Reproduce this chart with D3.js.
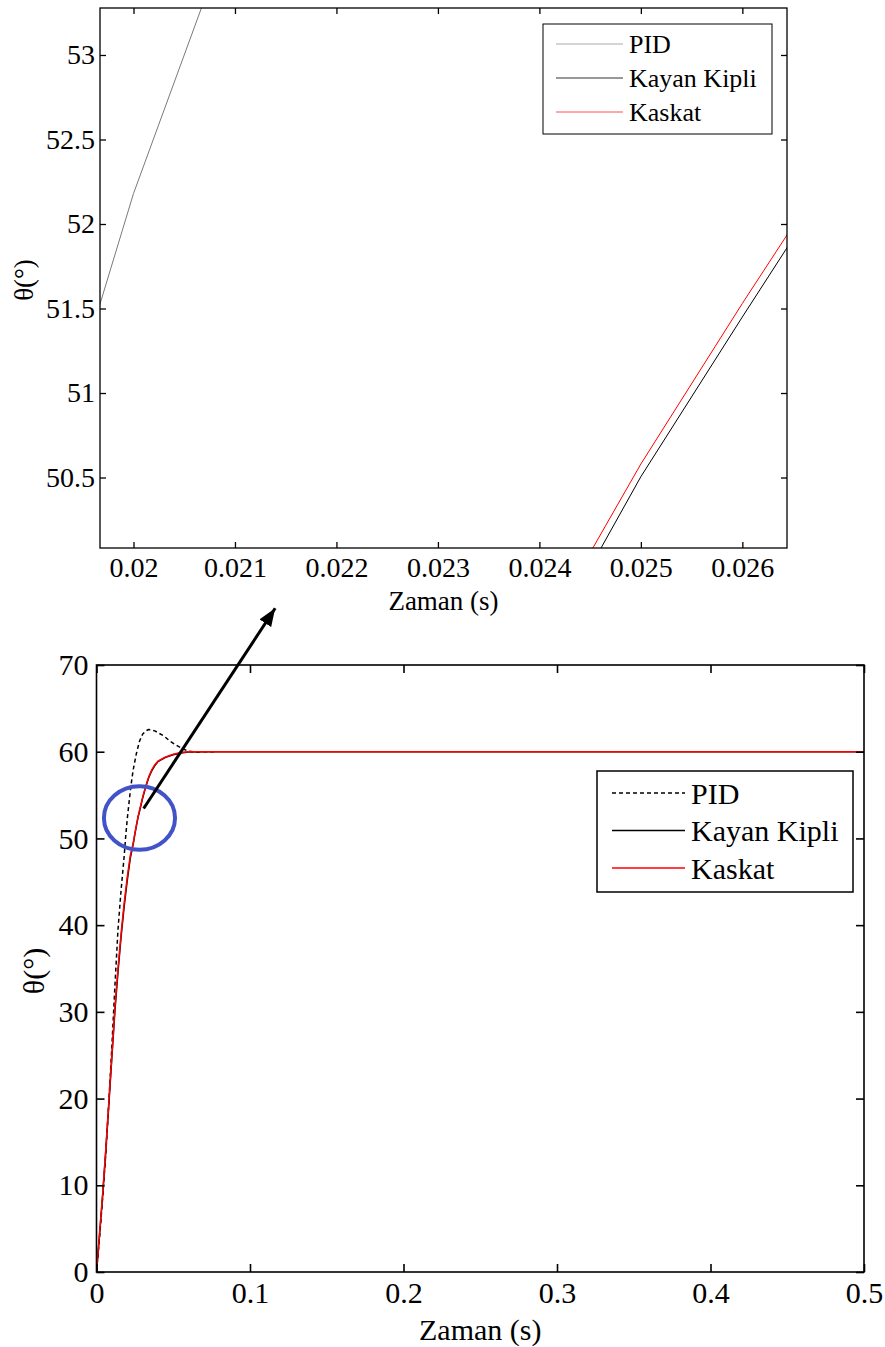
<!DOCTYPE html>
<html>
<head>
<meta charset="utf-8">
<script src="https://cdn.jsdelivr.net/npm/d3@7"></script>
<style>
  body { margin: 0; background: #fff; }
  svg { display: block; }
  text { font-family: "Liberation Serif", "Times New Roman", serif; fill: #000; }
</style>
</head>
<body>
<svg id="chart" width="885" height="1347"></svg>
<script>
// --- data ---
var seriesNames = ["PID", "Kayan Kipli", "Kaskat"];

var tPid = [0, 0.002, 0.004, 0.006, 0.008, 0.010, 0.012, 0.014, 0.016, 0.018, 0.019, 0.020, 0.021,
    0.022, 0.023, 0.024, 0.026, 0.028, 0.030, 0.032, 0.034, 0.036, 0.038, 0.040, 0.044, 0.048,
    0.052, 0.056, 0.060, 0.065, 0.070, 0.078];
var pid = [0, 4, 8.5, 13.5, 19.5, 26, 33, 39.5, 44, 47.9, 50.2, 52.18, 53.82,
    55.4, 56.8, 58.0, 59.8, 61.2, 62.0, 62.4, 62.56, 62.5, 62.4, 62.2, 61.8, 61.2,
    60.75, 60.35, 60.05, 59.95, 60, 60];

var tSim = [0, 0.002, 0.004, 0.006, 0.008, 0.010, 0.012, 0.014, 0.016, 0.018, 0.020, 0.022,
    0.024, 0.025, 0.026, 0.027, 0.028, 0.030, 0.032, 0.034, 0.036, 0.038, 0.040, 0.045,
    0.050, 0.055, 0.060, 0.070, 0.100, 0.200, 0.300, 0.400, 0.500];
var kayanKipli = [0, 4.3, 8.8, 13.8, 19.2, 24.7, 30.1, 34.6, 38.6, 42.1, 45.1, 47.7,
    49.43, 50.505, 51.45, 52.38, 53.1, 54.6, 55.9, 57.0, 57.8, 58.4, 58.85, 59.35,
    59.65, 59.85, 59.97, 60, 60, 60, 60, 60, 60];
var kaskat = [0, 4.5, 9, 14, 19.5, 25, 30.5, 35, 39, 42.5, 45.5, 48,
    49.53, 50.58, 51.53, 52.45, 53.2, 54.7, 56.0, 57.1, 57.9, 58.5, 58.9, 59.4,
    59.7, 59.9, 60, 60, 60, 60, 60, 60, 60];

// zoomed panel (top) and full panel (bottom)
var topXTicks = [0.02, 0.021, 0.022, 0.023, 0.024, 0.025, 0.026];
var topYTicks = [50.5, 51, 51.5, 52, 52.5, 53];
var topXDomain = [0.01967, 0.02644];
var topYDomain = [50.083, 53.278];

var botXTicks = [0, 0.1, 0.2, 0.3, 0.4, 0.5];
var botYTicks = [0, 10, 20, 30, 40, 50, 60, 70];
var botXDomain = [0, 0.5];
var botYDomain = [0, 70];

var xLabel = "Zaman (s)";
var yLabel = "θ(°)";

// annotation: ellipse around zoom region and arrow to the zoomed panel (data units of bottom panel)
var ellipseCenter = [0.0280, 52.35];
var ellipseRadius = [0.02316, 3.66];
var arrowFrom = [0.0307, 53.45];
var arrowTo = [0.1164, 76.55];

var svg = d3.select("#chart");

function drawPanel(o) {
    var x = d3.scaleLinear().domain(o.xDomain).range([o.left, o.right]);
    var y = d3.scaleLinear().domain(o.yDomain).range([o.bottom, o.top]);
    var g = svg.append("g");

    g.append("clipPath").attr("id", o.id + "-clip")
        .append("rect")
        .attr("x", o.left).attr("y", o.top)
        .attr("width", o.right - o.left).attr("height", o.bottom - o.top);

    var plot = g.append("g").attr("clip-path", "url(#" + o.id + "-clip)");

    var line = d3.line().x(d => x(d[0])).y(d => y(d[1]));

    o.series.forEach(s => {
        var pts = d3.zip(s.t, s.v);
        plot.append("path")
            .attr("fill", "none")
            .attr("stroke", s.color)
            .attr("stroke-width", s.width)
            .attr("stroke-dasharray", s.dash || null)
            .attr("stroke-linejoin", "round")
            .attr("d", line(pts));
    });

    // axes, MATLAB style: ticks inward on all four sides
    var fmt = d => String(d);
    var ax = g.append("g").attr("transform", `translate(0,${o.bottom})`)
        .call(d3.axisBottom(x).tickValues(o.xTicks).tickFormat(fmt)
            .tickSizeInner(-o.tick).tickSizeOuter(0).tickPadding(o.xPad));
    var axT = g.append("g").attr("transform", `translate(0,${o.top})`)
        .call(d3.axisTop(x).tickValues(o.xTicks).tickFormat("")
            .tickSizeInner(-o.tick).tickSizeOuter(0));
    var ay = g.append("g").attr("transform", `translate(${o.left},0)`)
        .call(d3.axisLeft(y).tickValues(o.yTicks).tickFormat(fmt)
            .tickSizeInner(-o.tick).tickSizeOuter(0).tickPadding(o.yPad));
    var ayR = g.append("g").attr("transform", `translate(${o.right},0)`)
        .call(d3.axisRight(y).tickValues(o.yTicks).tickFormat("")
            .tickSizeInner(-o.tick).tickSizeOuter(0));

    [ax, axT, ay, ayR].forEach(a => {
        a.select(".domain").remove();
        a.selectAll(".tick line").attr("stroke", "#000").attr("stroke-width", o.stroke);
        a.selectAll(".tick text").style("font-size", o.tickFont + "px")
            .style("font-family", "'Liberation Serif', 'Times New Roman', serif");
    });

    g.append("rect")
        .attr("x", o.left).attr("y", o.top)
        .attr("width", o.right - o.left).attr("height", o.bottom - o.top)
        .attr("fill", "none").attr("stroke", "#000").attr("stroke-width", o.stroke);

    g.append("text")
        .attr("x", (o.left + o.right) / 2).attr("y", o.xLabelY)
        .attr("text-anchor", "middle")
        .style("font-size", o.labelFont + "px")
        .text(xLabel);

    g.append("text")
        .attr("transform", `translate(${o.yLabelX},${o.yLabelY}) rotate(-90)`)
        .attr("text-anchor", "middle")
        .attr("dominant-baseline", "central")
        .style("font-size", o.labelFont + "px")
        .text(yLabel);

    // legend
    var lg = o.legend;
    g.append("rect")
        .attr("x", lg.x).attr("y", lg.y).attr("width", lg.w).attr("height", lg.h)
        .attr("fill", "#fff").attr("stroke", "#000").attr("stroke-width", lg.stroke);
    o.series.forEach((s, i) => {
        var cy = lg.y + lg.first + i * lg.step;
        g.append("line")
            .attr("x1", lg.x + lg.lineX0).attr("x2", lg.x + lg.lineX1)
            .attr("y1", cy).attr("y2", cy)
            .attr("stroke", s.legendColor || s.color)
            .attr("stroke-width", s.width)
            .attr("stroke-dasharray", s.dash || null);
        g.append("text")
            .attr("x", lg.x + lg.textX).attr("y", cy)
            .attr("dominant-baseline", "central")
            .style("font-size", lg.font + "px")
            .text(s.name);
    });

    return { x: x, y: y };
}

// top: zoomed view
drawPanel({
    id: "top", left: 100, right: 787, top: 8, bottom: 548,
    xDomain: topXDomain, yDomain: topYDomain, xTicks: topXTicks, yTicks: topYTicks,
    tick: 6, stroke: 1.3, tickFont: 28, labelFont: 27, xPad: 9, yPad: 5,
    xLabelY: 610, yLabelX: 24, yLabelY: 280,
    series: [
        { name: seriesNames[0], t: tPid, v: pid, color: "#7a7a7a", legendColor: "#aaaaaa", width: 1 },
        { name: seriesNames[1], t: tSim, v: kayanKipli, color: "#000", legendColor: "#333", width: 1 },
        { name: seriesNames[2], t: tSim, v: kaskat, color: "#ff0000", legendColor: "#ff5050", width: 1 }
    ],
    legend: { x: 543, y: 24, w: 229, h: 110, stroke: 1, first: 20, step: 34,
        lineX0: 13, lineX1: 80, textX: 86, font: 26 }
});

// bottom: full response
var bot = drawPanel({
    id: "bot", left: 96.5, right: 864, top: 665, bottom: 1272,
    xDomain: botXDomain, yDomain: botYDomain, xTicks: botXTicks, yTicks: botYTicks,
    tick: 8, stroke: 1.6, tickFont: 30, labelFont: 30, xPad: 10, yPad: 8,
    xLabelY: 1340, yLabelX: 33, yLabelY: 971,
    series: [
        { name: seriesNames[0], t: tPid, v: pid, color: "#000", width: 1.5, dash: "4,3" },
        { name: seriesNames[1], t: tSim, v: kayanKipli, color: "#000", width: 1.5 },
        { name: seriesNames[2], t: tSim, v: kaskat, color: "#ff0000", width: 1.5 }
    ],
    legend: { x: 597, y: 771, w: 256, h: 121, stroke: 1.5, first: 22, step: 37.5,
        lineX0: 15, lineX1: 88, textX: 94, font: 30 }
});

// ellipse + arrow annotation
var ex = bot.x, ey = bot.y;
svg.append("ellipse")
    .attr("cx", ex(ellipseCenter[0])).attr("cy", ey(ellipseCenter[1]))
    .attr("rx", ex(ellipseCenter[0] + ellipseRadius[0]) - ex(ellipseCenter[0]))
    .attr("ry", ey(ellipseCenter[1]) - ey(ellipseCenter[1] + ellipseRadius[1]))
    .attr("fill", "none").attr("stroke", "#4252c8").attr("stroke-width", 4);

svg.append("defs").append("marker")
    .attr("id", "head")
    .attr("markerUnits", "userSpaceOnUse")
    .attr("viewBox", "0 0 18 14")
    .attr("refX", 18).attr("refY", 7)
    .attr("markerWidth", 18).attr("markerHeight", 14)
    .attr("orient", "auto")
    .append("path").attr("d", "M0,0 L18,7 L0,14 Z").attr("fill", "#000");

svg.append("line")
    .attr("x1", ex(arrowFrom[0])).attr("y1", ey(arrowFrom[1]))
    .attr("x2", ex(arrowTo[0])).attr("y2", ey(arrowTo[1]))
    .attr("stroke", "#000").attr("stroke-width", 3)
    .attr("marker-end", "url(#head)");
</script>
</body>
</html>
